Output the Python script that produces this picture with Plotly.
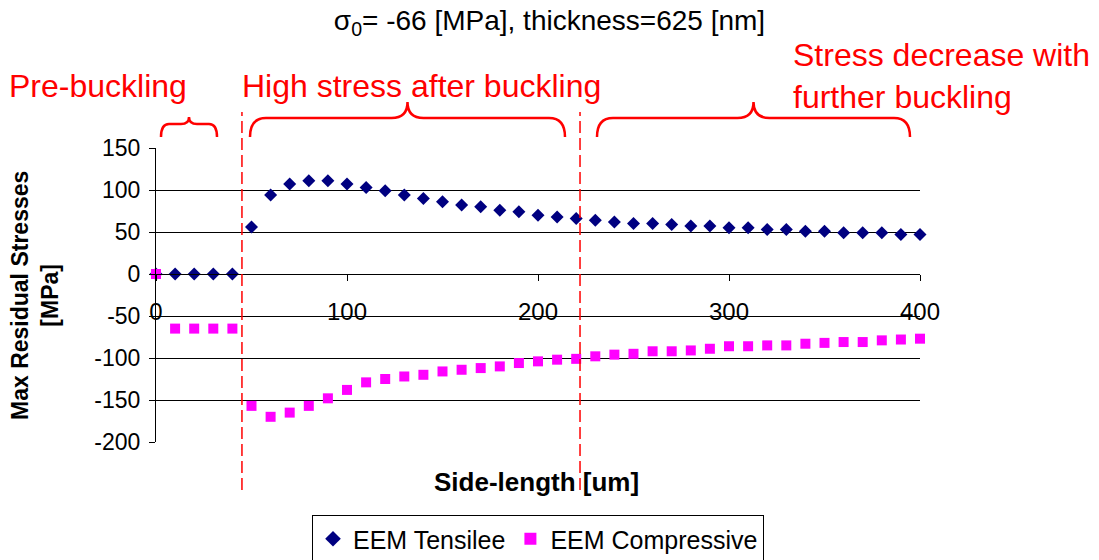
import plotly.graph_objects as go

# ---- data ----
side_length = [0, 10, 20, 30, 40, 50, 60, 70, 80, 90, 100, 110, 120, 130, 140, 150, 160, 170, 180, 190,
               200, 210, 220, 230, 240, 250, 260, 270, 280, 290, 300, 310, 320, 330, 340, 350, 360, 370,
               380, 390, 400]
tensile = [0, 0, 0, 0, 0, 56, 94, 107, 111, 111, 107, 103, 99, 94, 90, 86, 82, 80, 76, 74,
           70, 68, 66, 64, 62, 60, 60, 59, 57, 57, 55, 55, 53, 53, 51, 51, 49, 49,
           49, 47, 47]
compressive = [0, -65, -65, -65, -65, -157, -170, -165, -157, -148, -138, -129, -125, -122, -120, -116, -114, -112, -110, -106,
               -104, -102, -101, -98, -96, -95, -92, -92, -91, -89, -86, -86, -85, -85, -83, -82, -81, -81,
               -79, -78, -77]
x_ticks = [0, 100, 200, 300, 400]
y_ticks = [-200, -150, -100, -50, 0, 50, 100, 150]
boundaries = [45, 222]

FONT = "Liberation Sans, Arial, sans-serif"
W, H = 1099, 560
L, R, T, B = 156, 920, 148, 442


def px(x):
    return (x - L) / (R - L)


def py(y):
    return (B - y) / (B - T)


def brace(x0, x1, ybot, ybar, ytip, r):
    xm = (x0 + x1) / 2
    pts = [
        f"M {px(x0)},{py(ybot)}",
        f"Q {px(x0)},{py(ybar)} {px(x0 + r)},{py(ybar)}",
        f"L {px(xm - r)},{py(ybar)}",
        f"Q {px(xm)},{py(ybar)} {px(xm)},{py(ytip)}",
        f"Q {px(xm)},{py(ybar)} {px(xm + r)},{py(ybar)}",
        f"L {px(x1 - r)},{py(ybar)}",
        f"Q {px(x1)},{py(ybar)} {px(x1)},{py(ybot)}",
    ]
    return " ".join(pts)


fig = go.Figure()
fig.add_trace(go.Scatter(
    x=side_length, y=tensile, mode="markers", name="EEM Tensilee",
    marker=dict(symbol="diamond", size=10, color="#000080"), cliponaxis=False))
fig.add_trace(go.Scatter(
    x=side_length, y=compressive, mode="markers", name="EEM Compressive",
    marker=dict(symbol="square", size=10, color="#FF00FF"), cliponaxis=False))

shapes = []
for b in boundaries:
    shapes.append(dict(type="line", xref="x", yref="paper", x0=b, x1=b,
                       y0=py(490), y1=py(112),
                       line=dict(color="#FF0000", width=1.5, dash="12px,5px")))
for (x0, x1, ybot, ybar, ytip, r) in [(161, 217, 137, 124, 117, 8),
                                      (250, 565, 137, 118, 102, 16),
                                      (597, 910, 137, 118, 102, 16)]:
    shapes.append(dict(type="path", xref="paper", yref="paper",
                       path=brace(x0, x1, ybot, ybar, ytip, r),
                       line=dict(color="#FF0000", width=2.5)))

annotations = [
    dict(text="Pre-buckling", x=px(7), y=py(86), xref="paper", yref="paper",
         xanchor="left", yanchor="middle", showarrow=False,
         font=dict(family=FONT, size=32, color="#FF0000")),
    dict(text="High stress after buckling", x=px(240), y=py(86), xref="paper", yref="paper",
         xanchor="left", yanchor="middle", showarrow=False,
         font=dict(family=FONT, size=32, color="#FF0000")),
    dict(text="Stress decrease with<br>further buckling", x=px(791), y=py(76), xref="paper", yref="paper",
         xanchor="left", yanchor="middle", align="left", showarrow=False,
         font=dict(family=FONT, size=32, color="#FF0000")),
    dict(text="<b>Max Residual Stresses</b><br><b>[MPa]</b>", x=px(35), y=py(296),
         xref="paper", yref="paper", xanchor="center", yanchor="middle",
         textangle=-90, showarrow=False, font=dict(family=FONT, size=23, color="black")),
    dict(text="<b>Side-length [um]</b>", x=px(536), y=py(482), xref="paper", yref="paper",
         xanchor="center", yanchor="middle", showarrow=False,
         font=dict(family=FONT, size=26, color="black")),
]

fig.update_layout(
    width=W, height=H, autosize=False,
    margin=dict(l=L, r=W - R, t=T, b=H - B, autoexpand=False),
    paper_bgcolor="white", plot_bgcolor="white",
    font=dict(family=FONT, color="black"),
    title=dict(text="σ<sub>0</sub>= -66 [MPa], thickness=625 [nm]", x=0.5, xref="container",
               y=1 - 20 / H, yref="container", xanchor="center", yanchor="middle",
               font=dict(family=FONT, size=28, color="black")),
    xaxis=dict(range=[0, 400], tickvals=x_ticks, ticktext=[str(v) for v in x_ticks],
               anchor="free", position=(0 - (-200)) / 350, showline=True, linecolor="black",
               linewidth=1, ticks="outside", ticklen=6, tickcolor="black", showgrid=False,
               zeroline=False, ticklabelstandoff=10, tickfont=dict(size=24, family=FONT)),
    yaxis=dict(range=[-200, 150], tickvals=y_ticks, ticktext=[str(v) for v in y_ticks],
               showline=True, linecolor="black", linewidth=1, ticks="outside", ticklen=6,
               tickcolor="black", showgrid=True, gridcolor="black", gridwidth=1, zeroline=False,
               tickfont=dict(size=23, family=FONT), ticklabelstandoff=4),
    legend=dict(orientation="h", x=px(538), xanchor="center", y=py(515), yanchor="top",
                bordercolor="black", borderwidth=1, font=dict(size=25, family=FONT),
                itemsizing="constant", tracegroupgap=0),
    shapes=shapes, annotations=annotations, showlegend=True,
)

fig.write_html("out.html")
